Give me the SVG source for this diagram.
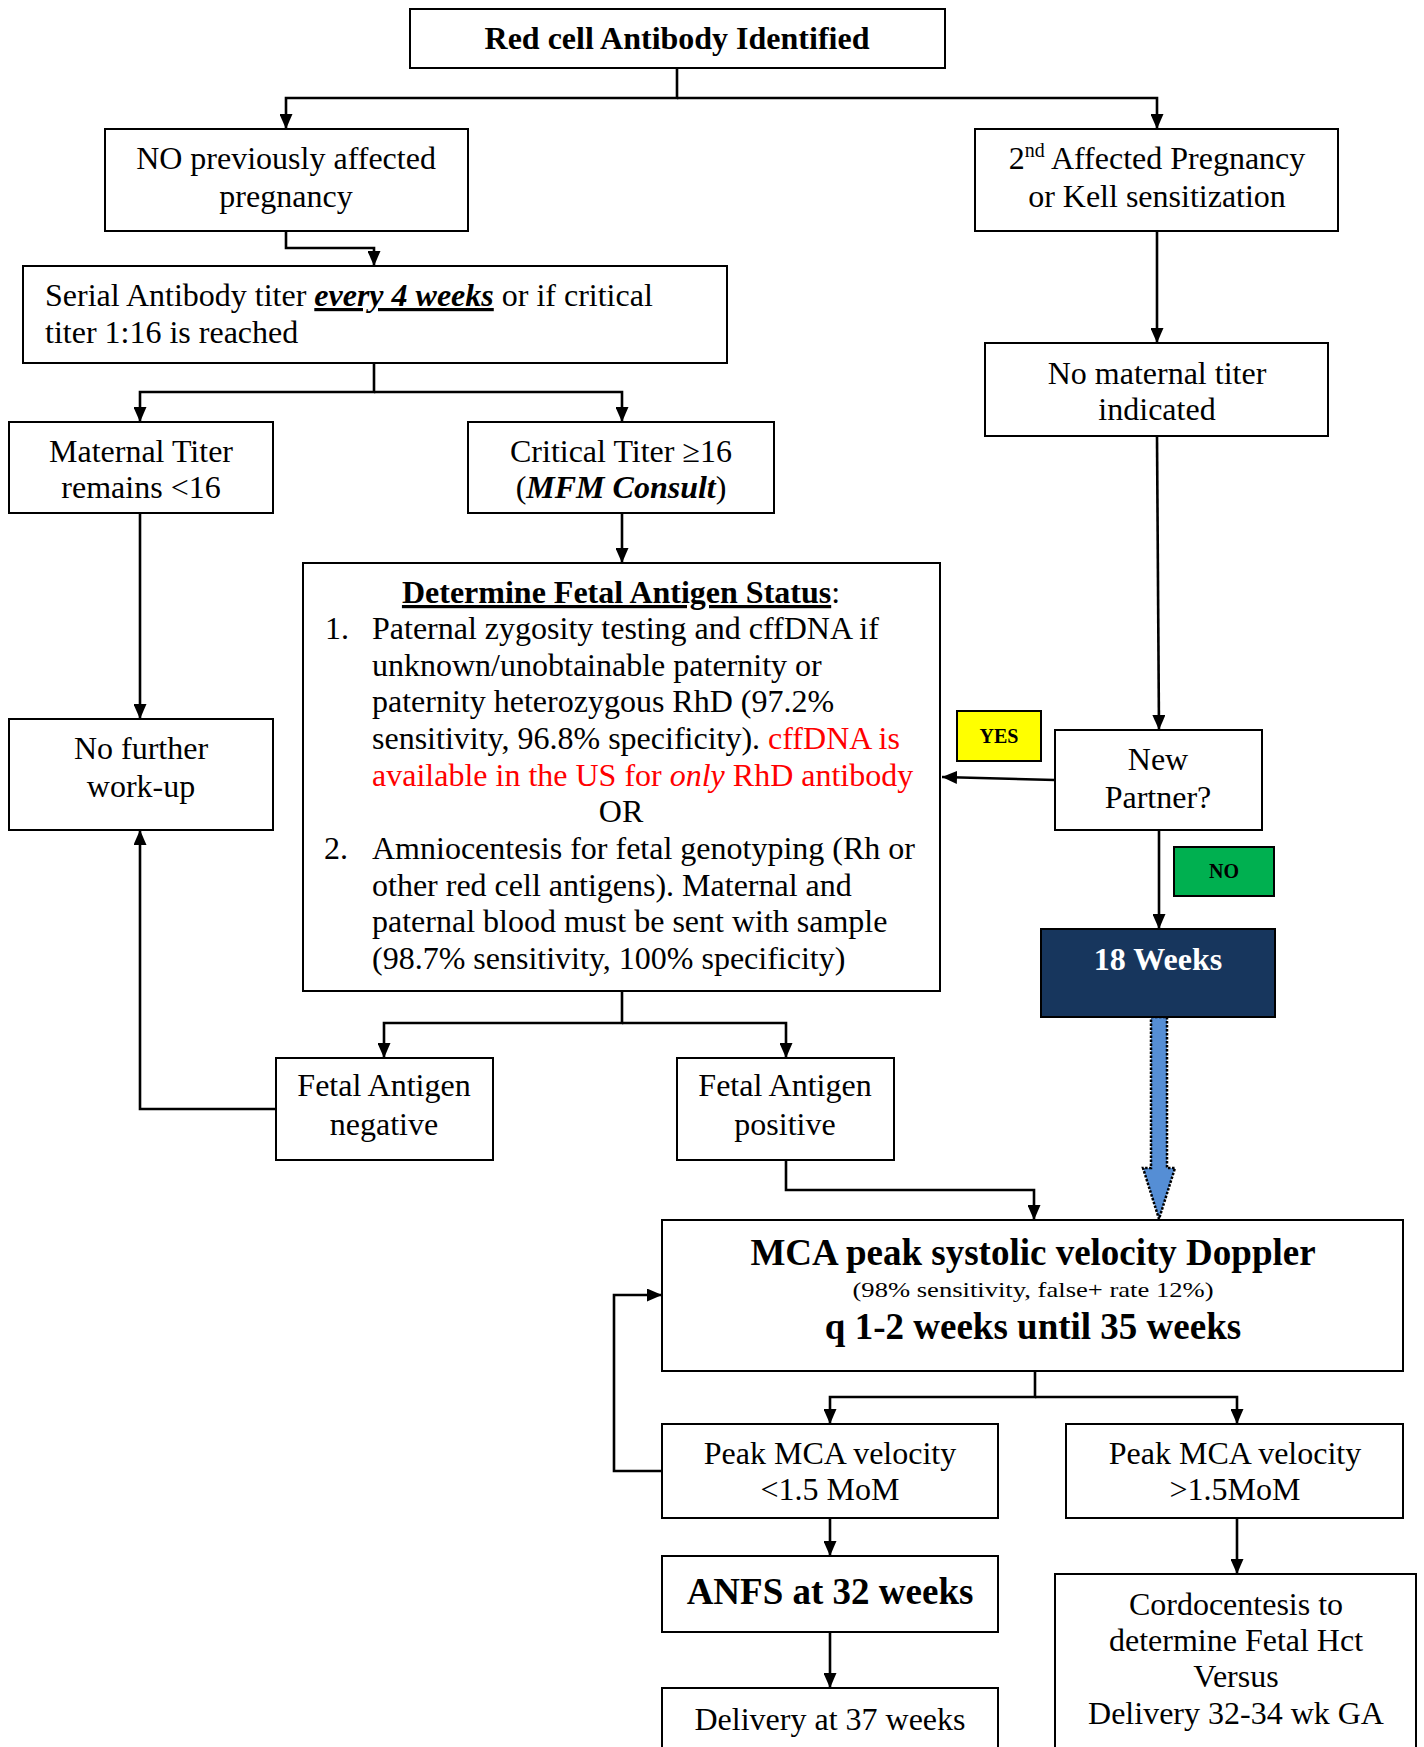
<svg xmlns="http://www.w3.org/2000/svg" width="1424" height="1747" viewBox="0 0 1424 1747">
<defs>
<marker id="ah" viewBox="0 0 15 13" refX="15" refY="6.5" markerWidth="15" markerHeight="13" markerUnits="userSpaceOnUse" orient="auto">
<path d="M0,0 L15,6.5 L0,13 z" fill="#000"/>
</marker>
<style>
.box{fill:#fff;stroke:#000;stroke-width:2}
.t{font-family:"Liberation Serif","Times New Roman",serif;font-size:32px;fill:#000}
.big{font-size:37px}
.sm{font-size:21px}
.lbl{font-size:20px}
.c{text-anchor:middle}
.b{font-weight:bold}
.con path{fill:none;stroke:#000;stroke-width:2.6;marker-end:url(#ah)}
.red{fill:#FF0000}
.wht{fill:#fff}
</style>
</defs>
<rect width="1424" height="1747" fill="#fff"/>

<g id="connectors" class="con">
<path d="M677,68 V98 H286 V129"/>
<path d="M677,98 H1157 V129"/>
<path d="M286,231 V248 H374 V266"/>
<path d="M374,363 V392 H140 V422"/>
<path d="M374,392 H622 V422"/>
<path d="M622,513 V563"/>
<path d="M140,513 V719"/>
<path d="M1157,231 V343"/>
<path d="M1157,436 L1159,730"/>
<path d="M1055,780 L942,777"/>
<path d="M1159,830 V929"/>
<path d="M622,991 V1023 H384 V1058"/>
<path d="M622,1023 H786 V1058"/>
<path d="M276,1109 H140 V830"/>
<path d="M786,1160 V1190 H1034 V1220"/>
<path d="M1035,1371 V1397 H830 V1424"/>
<path d="M1035,1397 H1237 V1424"/>
<path d="M662,1471 H614 V1295 H662"/>
<path d="M830,1518 V1556"/>
<path d="M830,1632 V1688"/>
<path d="M1237,1518 V1574"/>
<polygon points="1151,1017 1167,1017 1167,1168 1175,1168 1159,1219 1143,1168 1151,1168" fill="#558ED5" stroke="#000" stroke-width="2.5" stroke-dasharray="2.5,1.5"/>
</g>

<g id="n-top">
<rect class="box" x="410" y="9" width="535" height="59"/>
<text class="t c b" x="677" y="49">Red cell Antibody Identified</text>
</g>

<g id="n-noprev">
<rect class="box" x="105" y="129" width="363" height="102"/>
<text class="t c" x="286" y="169">NO previously affected</text>
<text class="t c" x="286" y="207">pregnancy</text>
</g>

<g id="n-second">
<rect class="box" x="975" y="129" width="363" height="102"/>
<text class="t c" x="1157" y="169">2<tspan style="font-size:20px" dy="-12">nd</tspan><tspan dy="12"> Affected Pregnancy</tspan></text>
<text class="t c" x="1157" y="207">or Kell sensitization</text>
</g>

<g id="n-serial">
<rect class="box" x="23" y="266" width="704" height="97"/>
<text class="t" x="45" y="306">Serial Antibody titer <tspan font-weight="bold" font-style="italic" text-decoration="underline">every 4 weeks</tspan> or if critical</text>
<text class="t" x="45" y="343">titer 1:16 is reached</text>
</g>

<g id="n-nomaternal">
<rect class="box" x="985" y="343" width="343" height="93"/>
<text class="t c" x="1157" y="384">No maternal titer</text>
<text class="t c" x="1157" y="420">indicated</text>
</g>

<g id="n-maternal">
<rect class="box" x="9" y="422" width="264" height="91"/>
<text class="t c" x="141" y="462">Maternal Titer</text>
<text class="t c" x="141" y="498">remains &lt;16</text>
</g>

<g id="n-critical">
<rect class="box" x="468" y="422" width="306" height="91"/>
<text class="t c" x="621" y="462">Critical Titer ≥16</text>
<text class="t c" x="621" y="498">(<tspan font-weight="bold" font-style="italic">MFM Consult</tspan>)</text>
</g>

<g id="n-determine">
<rect class="box" x="303" y="563" width="637" height="428"/>
<text class="t c" x="621" y="603"><tspan font-weight="bold" text-decoration="underline">Determine Fetal Antigen Status</tspan>:</text>
<text class="t" x="325" y="639">1.</text>
<text class="t" x="372" y="639">Paternal zygosity testing and cffDNA if</text>
<text class="t" x="372" y="676">unknown/unobtainable paternity or</text>
<text class="t" x="372" y="712">paternity heterozygous RhD (97.2%</text>
<text class="t" x="372" y="749">sensitivity, 96.8% specificity). <tspan class="red">cffDNA is</tspan></text>
<text class="t red" x="372" y="786">available in the US for <tspan font-style="italic">only</tspan> RhD antibody</text>
<text class="t c" x="621" y="822">OR</text>
<text class="t" x="324" y="859">2.</text>
<text class="t" x="372" y="859">Amniocentesis for fetal genotyping (Rh or</text>
<text class="t" x="372" y="896">other red cell antigens). Maternal and</text>
<text class="t" x="372" y="932">paternal blood must be sent with sample</text>
<text class="t" x="372" y="969">(98.7% sensitivity, 100% specificity)</text>
</g>

<g id="n-nofurther">
<rect class="box" x="9" y="719" width="264" height="111"/>
<text class="t c" x="141" y="759">No further</text>
<text class="t c" x="141" y="797">work-up</text>
</g>

<g id="n-yes">
<rect x="957" y="711" width="84" height="50" fill="#FFFF00" stroke="#000" stroke-width="2"/>
<text class="t c b lbl" x="999" y="743">YES</text>
</g>

<g id="n-newpartner">
<rect class="box" x="1055" y="730" width="207" height="100"/>
<text class="t c" x="1158" y="770">New</text>
<text class="t c" x="1158" y="808">Partner?</text>
</g>

<g id="n-no">
<rect x="1174" y="847" width="100" height="49" fill="#00B050" stroke="#000" stroke-width="2"/>
<text class="t c b lbl" x="1224" y="878">NO</text>
</g>

<g id="n-18weeks">
<rect x="1041" y="929" width="234" height="88" fill="#17365D" stroke="#000" stroke-width="2"/>
<text class="t c b wht" x="1158" y="970">18 Weeks</text>
</g>

<g id="n-negative">
<rect class="box" x="276" y="1058" width="217" height="102"/>
<text class="t c" x="384" y="1096">Fetal Antigen</text>
<text class="t c" x="384" y="1135">negative</text>
</g>

<g id="n-positive">
<rect class="box" x="677" y="1058" width="217" height="102"/>
<text class="t c" x="785" y="1096">Fetal Antigen</text>
<text class="t c" x="785" y="1135">positive</text>
</g>

<g id="n-mca">
<rect class="box" x="662" y="1220" width="741" height="151"/>
<text class="t c b big" x="1033" y="1265">MCA peak systolic velocity Doppler</text>
<text class="t c sm" x="1033" y="1297" textLength="361" lengthAdjust="spacingAndGlyphs">(98% sensitivity, false+ rate 12%)</text>
<text class="t c b big" x="1033" y="1339">q 1-2 weeks until 35 weeks</text>
</g>

<g id="n-peaklow">
<rect class="box" x="662" y="1424" width="336" height="94"/>
<text class="t c" x="830" y="1464">Peak MCA velocity</text>
<text class="t c" x="830" y="1500">&lt;1.5 MoM</text>
</g>

<g id="n-peakhigh">
<rect class="box" x="1066" y="1424" width="337" height="94"/>
<text class="t c" x="1235" y="1464">Peak MCA velocity</text>
<text class="t c" x="1235" y="1500">&gt;1.5MoM</text>
</g>

<g id="n-anfs">
<rect class="box" x="662" y="1556" width="336" height="76"/>
<text class="t c b big" x="830" y="1604">ANFS at 32 weeks</text>
</g>

<g id="n-delivery">
<rect class="box" x="662" y="1688" width="336" height="80"/>
<text class="t c" x="830" y="1730">Delivery at 37 weeks</text>
</g>

<g id="n-cordo">
<rect class="box" x="1055" y="1574" width="361" height="200"/>
<text class="t c" x="1236" y="1615">Cordocentesis to</text>
<text class="t c" x="1236" y="1651">determine Fetal Hct</text>
<text class="t c" x="1236" y="1687">Versus</text>
<text class="t c" x="1236" y="1724">Delivery 32-34 wk GA</text>
</g>
</svg>
